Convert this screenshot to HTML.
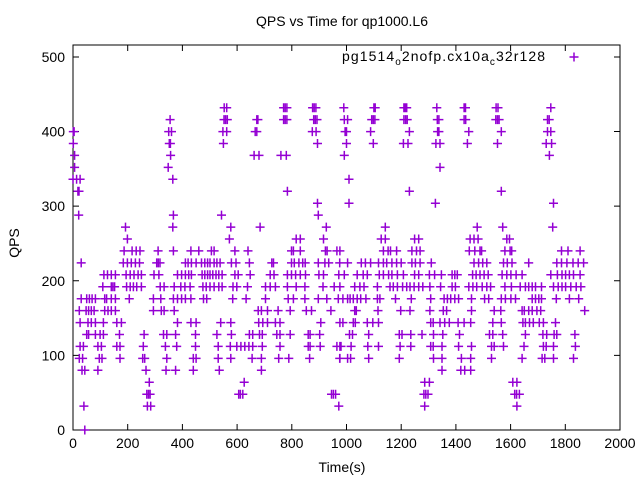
<!DOCTYPE html>
<html><head><meta charset="utf-8"><style>
body{margin:0;background:#fff}
svg{display:block;font-family:"Liberation Sans",sans-serif}
</style></head><body>
<svg id="chart" width="640" height="480">
<rect x="0" y="0" width="640" height="480" fill="#fff"/>
<text x="342" y="26" font-size="14" text-anchor="middle">QPS vs Time for qp1000.L6</text>
<text x="342" y="472" font-size="14" text-anchor="middle">Time(s)</text>
<text x="19" y="243" font-size="14" text-anchor="middle" transform="rotate(-90 19 243)">QPS</text>
<g id="axes"></g>
<g id="points"></g>
<g>
<text x="342" y="61" font-size="14" textLength="203" lengthAdjust="spacing">pg1514<tspan font-size="10" dy="4">o</tspan><tspan dy="-4">2nofp.cx10a</tspan><tspan font-size="10" dy="4">c</tspan><tspan dy="-4">32r128</tspan></text>
<path d="M569.5 57h9M574 52.5v9" stroke="#9400d3" stroke-width="1.5"/>
</g>
</svg>
<script>
const xTicks=[0,200,400,600,800,1000,1200,1400,1600,1800,2000];
const yTicks=[0,100,200,300,400,500];
const qps432=[553,562,770,776,782,876,882,888,990,1100,1105,1210,1215,1220,1330,1430,1435,1547,1554,1747];
const qps416=[355,552,558,564,672,676,770,776,782,880,886,892,992,1004,1092,1098,1104,1210,1216,1222,1332,1338,1430,1436,1546,1552,1558,1735,1741];
const qps400=[1,4,350,360,548,562,666,672,875,889,995,1000,1088,1230,1333,1338,1447,1566,1735,1747];
const qps384=[1,352,356,550,894,1000,1098,1208,1225,1327,1342,1442,1552,1730,1750];
const qps368=[6,357,662,680,760,780,992,1742];
const qps352=[6,348,1342];
const qps336=[0,13,26,365,1009];
const qps320=[18,22,784,1230,1566];
const qps304=[894,1009,1325,1757];
const qps288=[21,367,543,897];
const qps272=[192,365,577,684,926,1142,1478,1571,1754];
const qps256=[199,572,816,831,916,1127,1142,1249,1264,1452,1466,1481,1586,1596];
const qps240=[187,216,231,245,311,367,431,460,506,516,592,640,799,806,831,923,929,965,976,1135,1152,1161,1183,1239,1256,1269,1449,1469,1488,1494,1579,1598,1604,1786,1810,1854];
const qps224=[30,184,199,213,228,243,306,312,318,411,421,433,450,470,482,492,501,516,526,538,579,596,645,727,733,799,809,826,840,849,897,921,935,975,1004,1054,1069,1088,1117,1135,1147,1166,1183,1200,1239,1252,1269,1310,1466,1483,1498,1513,1574,1588,1605,1666,1769,1786,1806,1828,1847,1867];
const qps208=[113,126,140,155,194,209,223,238,250,296,314,382,397,411,423,433,472,482,492,501,511,523,533,545,592,604,648,721,735,784,799,814,831,850,899,916,972,992,1039,1061,1076,1120,1135,1154,1166,1186,1208,1249,1264,1303,1322,1347,1386,1396,1405,1461,1474,1488,1503,1518,1569,1586,1601,1620,1642,1747,1771,1788,1801,1815,1830,1854];
const qps192=[109,140,146,152,196,209,221,233,250,319,333,370,394,409,428,475,487,501,516,533,545,585,599,638,704,721,740,784,816,848,914,955,976,1030,1049,1064,1113,1159,1171,1186,1205,1220,1232,1247,1264,1279,1305,1344,1386,1398,1447,1462,1476,1496,1513,1527,1579,1603,1635,1654,1666,1679,1691,1713,1757,1774,1788,1801,1820,1840,1857];
const qps176=[30,50,60,70,82,116,123,140,155,206,294,321,367,382,397,411,431,477,489,584,633,704,787,806,848,897,928,970,987,1004,1013,1025,1039,1052,1071,1113,1122,1179,1237,1308,1357,1369,1381,1396,1410,1457,1505,1520,1566,1581,1601,1618,1679,1691,1703,1713,1767,1815,1849];
const qps160=[23,48,57,67,77,116,128,140,155,294,323,333,370,677,689,711,750,794,853,872,943,1030,1036,1115,1198,1232,1305,1354,1366,1457,1540,1564,1642,1650,1666,1679,1696,1710,1871];
const qps144=[26,55,67,82,111,160,177,382,431,450,540,577,679,694,711,740,757,906,987,976,1025,1032,1076,1096,1117,1308,1317,1342,1359,1376,1408,1430,1454,1535,1566,1645,1654,1669,1683,1705,1720,1764];
const qps128=[50,57,82,99,111,170,260,331,343,375,448,526,579,645,657,682,692,745,757,794,860,867,902,1011,1022,1081,1193,1203,1235,1276,1318,1352,1413,1523,1535,1571,1654,1718,1732,1759,1769,1835];
const qps112=[26,38,91,104,160,172,257,338,379,448,531,575,599,614,628,643,657,692,757,860,867,904,965,980,976,1017,1078,1117,1196,1235,1308,1317,1349,1410,1457,1530,1540,1574,1649,1720,1730,1757,1837];
const qps96=[23,35,96,106,172,255,262,343,440,450,531,577,655,689,752,789,865,975,1004,976,1015,1081,1193,1318,1349,1420,1454,1530,1642,1715,1725,1757,1830];
const qps80=[33,43,91,267,340,375,440,535,689,1349,1418,1432,1454];
const qps64=[279,626,1286,1303,1608,1623];
const qps48=[270,276,282,606,612,621,945,952,960,1283,1290,1298,1615,1622,1632];
const qps32=[40,272,284,972,1286,1623];
const qps0=[43];
const levels=[432,416,400,384,368,352,336,320,304,288,272,256,240,224,208,192,176,160,144,128,112,96,80,64,48,32,0];
const groups=[qps432,qps416,qps400,qps384,qps368,qps352,qps336,qps320,qps304,qps288,qps272,qps256,qps240,qps224,qps208,qps192,qps176,qps160,qps144,qps128,qps112,qps96,qps80,qps64,qps48,qps32,qps0];

const X0=73,X1=620,Y0=430,Y1=45;
function xs(t){return X0+(t-0)/(2000-0)*(X1-X0);}
function ys(q){return Y0-(q-0)/(516-0)*(Y0-Y1);}
const NS='http://www.w3.org/2000/svg';
const ax=document.getElementById('axes');
const frame=document.createElementNS(NS,'rect');
frame.setAttribute('x',X0);frame.setAttribute('y',Y1);frame.setAttribute('width',X1-X0);frame.setAttribute('height',Y0-Y1);
frame.setAttribute('fill','none');frame.setAttribute('stroke','#000');frame.setAttribute('stroke-width','1');


ax.appendChild(frame);
xTicks.forEach(v=>{
  const x=xs(v);
  const tk=document.createElementNS(NS,'path');
  tk.setAttribute('d',`M${x} ${Y0}v-6M${x} ${Y1}v6`);tk.setAttribute('stroke','#000');
  
  
  ax.appendChild(tk);
  const tx=document.createElementNS(NS,'text');
  tx.setAttribute('x',x);tx.setAttribute('y',Y0+18);tx.setAttribute('font-size','14');tx.setAttribute('text-anchor','middle');
  tx.textContent=v;
  
  
  ax.appendChild(tx);
});
yTicks.forEach(v=>{
  const y=ys(v);
  const tk=document.createElementNS(NS,'path');
  tk.setAttribute('d',`M${X0} ${y}h6M${X1} ${y}h-6`);tk.setAttribute('stroke','#000');
  
  
  ax.appendChild(tk);
  const tx=document.createElementNS(NS,'text');
  tx.setAttribute('x',X0-8);tx.setAttribute('y',y+5);tx.setAttribute('font-size','14');tx.setAttribute('text-anchor','end');
  tx.textContent=v;
  
  
  ax.appendChild(tx);
});
const pg=document.getElementById('points');
let d='';
groups.forEach((arr,i)=>{
  const y=ys(levels[i]);
  arr.forEach(t=>{const x=xs(t);d+=`M${(x-4.5).toFixed(1)} ${y.toFixed(1)}h9M${x.toFixed(1)} ${(y-4.5).toFixed(1)}v9`;});
});
const p=document.createElementNS(NS,'path');
p.setAttribute('d',d);p.setAttribute('stroke','#9400d3');p.setAttribute('stroke-width','1.5');p.setAttribute('fill','none');


pg.appendChild(p);
</script>
</body></html>
